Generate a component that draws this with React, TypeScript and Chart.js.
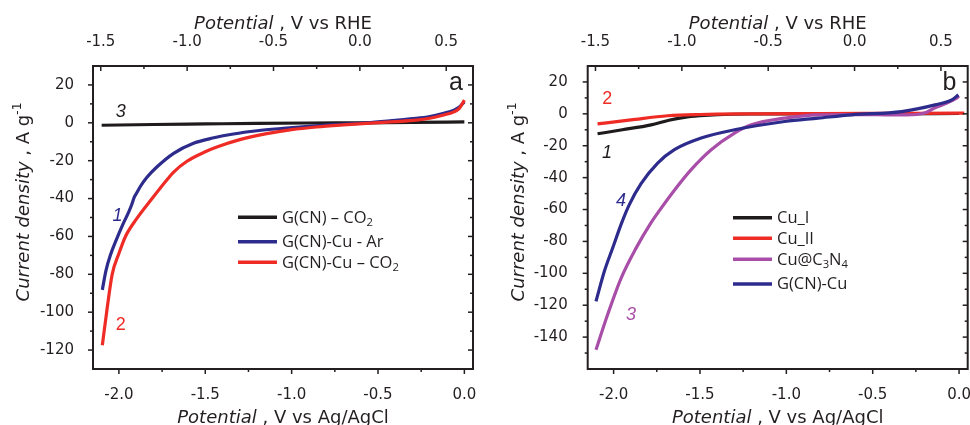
import React, { useEffect, useRef } from "react";
import { Chart, registerables } from "chart.js";

Chart.register(...registerables);

// ---------- axis ranges & ticks ----------
const xRangeAgCl = [-2.15, 0.05];
const xStep = 0.5;
const rheOffset = 0.605; // V vs RHE = V vs Ag/AgCl + offset
const xTicksAgCl = [-2.0, -1.5, -1.0, -0.5, 0.0];
const xTicksRHE = [-1.5, -1.0, -0.5, 0.0, 0.5];
const yRangeA = [-130, 30];
const yRangeB = [-160, 30];
const yStep = 20;
const yTicksA = [-120, -100, -80, -60, -40, -20, 0, 20];
const yTicksB = [-140, -120, -100, -80, -60, -40, -20, 0, 20];

// ---------- panel a data (Potential V vs Ag/AgCl, Current density A g-1) ----------
const potA_GCN_CO2 = [-2.1, -1.8, -1.5, -1.2, -0.9, -0.6, -0.3, 0.0];
const curA_GCN_CO2 = [-1.3, -0.9, -0.6, -0.3, -0.1, 0.0, 0.2, 0.5];

const potA_GCNCu_Ar = [-2.096, -2.075, -2.048, -2.014, -1.979, -1.943, -1.925, -1.912, -1.9, -1.875, -1.84, -1.779, -1.683, -1.568, -1.45, -1.337, -1.2, -1.048, -0.9, -0.76, -0.567, -0.4, -0.279, -0.2, -0.125, -0.06, -0.029, 0.0];
const curA_GCNCu_Ar = [-88.2, -78, -69.5, -61.5, -54, -47, -43, -39.5, -37.5, -33.5, -29, -23.2, -16.1, -10.8, -7.9, -5.9, -4.2, -2.9, -1.8, -0.9, 0, 1.3, 2.3, 3.3, 4.9, 6.7, 8.4, 11];

const potA_GCNCu_CO2 = [-2.096, -2.071, -2.039, -2.0, -1.962, -1.9, -1.808, -1.73, -1.683, -1.606, -1.5, -1.433, -1.3, -1.144, -1.0, -0.856, -0.7, -0.567, -0.4, -0.279, -0.2, -0.125, -0.06, -0.029, 0.0];
const curA_GCNCu_CO2 = [-117.5, -100, -80, -69, -60, -51, -40, -31, -26, -20.3, -15.3, -12.8, -8.9, -5.7, -3.6, -2.2, -1.1, -0.3, 0.6, 1.4, 2.4, 4, 5.8, 7.6, 12];

// ---------- panel b data ----------
const potB_CuI = [-2.093, -1.95, -1.783, -1.68, -1.59, -1.5, -1.397, -1.2, -0.8, -0.4, 0.0];
const curB_CuI = [-12.5, -10, -6.9, -4, -2.2, -1.2, -0.5, -0.1, 0, 0, 0.2];

const potB_CuII = [-2.093, -1.9, -1.687, -1.5, -1.2, -0.8, -0.4, 0.0, 0.03];
const curB_CuII = [-6.3, -3.8, -1.2, -0.4, 0, 0.2, 0.3, 0.4, 0.4];

const potB_CuC3N4 = [-2.102, -2.035, -1.957, -1.87, -1.783, -1.735, -1.648, -1.551, -1.435, -1.3, -1.203, -1.01, -0.816, -0.6, -0.43, -0.3, -0.2, -0.139, -0.07, -0.02, 0.0];
const curB_CuC3N4 = [-147.9, -126, -103.1, -84.2, -68.2, -60.7, -47.9, -35, -22.5, -12.1, -6.9, -2.7, -0.6, -0.5, -0.6, -0.7, 0.5, 3.8, 6.8, 9.5, 11.2];

const potB_GCNCu = [-2.102, -2.054, -2.006, -1.955, -1.909, -1.841, -1.745, -1.648, -1.493, -1.3, -1.01, -0.816, -0.623, -0.333, -0.139, -0.042, -0.004];
const curB_GCNCu = [-117.6, -98.9, -84.3, -68.8, -56.9, -43.8, -30.9, -22.5, -15.2, -10, -4.8, -2.7, -0.6, 1.4, 5.6, 8.8, 11.9];

// ---------- labels ----------
const legendLabelsA = ["G(CN) – CO{2}", "G(CN)-Cu - Ar", "G(CN)-Cu – CO{2}"];
const legendLabelsB = ["Cu_I", "Cu_II", "Cu@C{3}N{4}", "G(CN)-Cu"];
const curveTagsA = ["3", "1", "2"];
const curveTagsB = ["1", "2", "3", "4"];

const BLACK = "#1f1b1c";
const BLUE = "#2d2b8c";
const RED = "#ee2b24";
const PURPLE = "#a84ea8";
const TEXT = "#231f20";

type Series = { pot: number[]; cur: number[]; color: string; legend: string };
type Tag = { text: string; x: number; y: number; color: string; italic: boolean };
type Panel = {
  all: Series[];
  drawOrder: number[]; // first = on top
  yRange: number[];
  yTicks: number[];
  tags: Tag[];
  letter: { text: string; x: number; y: number };
  leftW: number;
  rightPad: number;
  yTickPad: number;
  yTitleX: number;
  legendLine: [number, number];
  legendTextX: number;
  legendRows: number[];
};

const sA: Series[] = [
  { pot: potA_GCN_CO2, cur: curA_GCN_CO2, color: BLACK, legend: legendLabelsA[0] },
  { pot: potA_GCNCu_Ar, cur: curA_GCNCu_Ar, color: BLUE, legend: legendLabelsA[1] },
  { pot: potA_GCNCu_CO2, cur: curA_GCNCu_CO2, color: RED, legend: legendLabelsA[2] },
];
const sB: Series[] = [
  { pot: potB_CuI, cur: curB_CuI, color: BLACK, legend: legendLabelsB[0] },
  { pot: potB_CuII, cur: curB_CuII, color: RED, legend: legendLabelsB[1] },
  { pot: potB_CuC3N4, cur: curB_CuC3N4, color: PURPLE, legend: legendLabelsB[2] },
  { pot: potB_GCNCu, cur: curB_GCNCu, color: BLUE, legend: legendLabelsB[3] },
];

const panelA: Panel = {
  all: sA,
  drawOrder: [2, 1, 0],
  yRange: yRangeA,
  yTicks: yTicksA,
  tags: [
    { text: curveTagsA[0], x: -1.99, y: 5.6, color: BLACK, italic: true },
    { text: curveTagsA[1], x: -2.008, y: -49, color: BLUE, italic: true },
    { text: curveTagsA[2], x: -1.99, y: -107, color: RED, italic: false },
  ],
  letter: { text: "a", x: -0.049, y: 21 },
  leftW: 93,
  rightPad: 12,
  yTickPad: 11,
  yTitleX: 29,
  legendLine: [238, 277],
  legendTextX: 282,
  legendRows: [217.3, 241.7, 262.3],
};
const panelB: Panel = {
  all: sB,
  drawOrder: [3, 2, 1, 0],
  yRange: yRangeB,
  yTicks: yTicksB,
  tags: [
    { text: curveTagsB[0], x: -2.038, y: -24.4, color: BLACK, italic: true },
    { text: curveTagsB[1], x: -2.037, y: 9.4, color: RED, italic: false },
    { text: curveTagsB[2], x: -1.899, y: -126, color: PURPLE, italic: true },
    { text: curveTagsB[3], x: -1.957, y: -54.9, color: BLUE, italic: true },
  ],
  letter: { text: "b", x: -0.055, y: 19 },
  leftW: 102.7,
  rightPad: 2.3,
  yTickPad: 12,
  yTitleX: 38.5,
  legendLine: [248, 287],
  legendTextX: 292,
  legendRows: [217.7, 238.3, 259.3, 284],
};

type Seg = { t: string; italic?: boolean; sup?: boolean; sub?: boolean };

function parseSub(s: string): Seg[] {
  const out: Seg[] = [];
  const re = /\{([^}]*)\}/g;
  let last = 0;
  let m: RegExpExecArray | null;
  while ((m = re.exec(s))) {
    if (m.index > last) out.push({ t: s.slice(last, m.index) });
    out.push({ t: m[1], sub: true });
    last = m.index + m[0].length;
  }
  if (last < s.length) out.push({ t: s.slice(last) });
  return out;
}

function drawRich(
  ctx: CanvasRenderingContext2D,
  segs: Seg[],
  x: number,
  y: number,
  size: number,
  family: string,
  align: "left" | "center"
) {
  const fontOf = (s: Seg) => {
    const sz = s.sup || s.sub ? size * 0.68 : size;
    return `${s.italic ? "italic " : ""}${sz}px ${family}`;
  };
  let total = 0;
  for (const s of segs) {
    ctx.font = fontOf(s);
    total += ctx.measureText(s.t).width;
  }
  let cx = align === "center" ? x - total / 2 : x;
  ctx.textAlign = "left";
  for (const s of segs) {
    ctx.font = fontOf(s);
    const dy = s.sup ? -size * 0.42 : s.sub ? size * 0.28 : 0;
    ctx.fillText(s.t, cx, y + dy);
    cx += ctx.measureText(s.t).width;
  }
}

function makePlugin(p: Panel) {
  return {
    id: "decor",
    afterDraw(chart: any) {
      const { ctx, chartArea: a, scales } = chart;
      const xs = scales.x;
      const xt = scales.x2;
      const ys = scales.y;
      ctx.save();
      ctx.strokeStyle = TEXT;
      ctx.lineWidth = 2;
      ctx.strokeRect(a.left, a.top, a.right - a.left, a.bottom - a.top);
      ctx.lineWidth = 1.5;
      const line = (x1: number, y1: number, x2: number, y2: number) => {
        ctx.beginPath();
        ctx.moveTo(x1, y1);
        ctx.lineTo(x2, y2);
        ctx.stroke();
      };
      const MAJ = 5;
      const MIN = 3;
      const half = yStep / 2;
      for (let i = Math.ceil(ys.min / half) + 1; i * half < ys.max; i++) {
        const L = i % 2 === 0 ? MAJ : MIN;
        const py = ys.getPixelForValue(i * half);
        line(a.left - L, py, a.left, py);
        line(a.right - L, py, a.right, py);
      }
      const qx = xStep / 2;
      for (let i = Math.ceil(xs.min / qx - 1e-9); i * qx <= xs.max + 1e-9; i++) {
        const L = i % 2 === 0 ? MAJ : MIN;
        const px = xs.getPixelForValue(i * qx);
        line(px, a.bottom, px, a.bottom + L);
      }
      for (let i = Math.ceil(xt.min / qx - 1e-9); i * qx <= xt.max + 1e-9; i++) {
        const L = i % 2 === 0 ? MAJ : MIN;
        const px = xt.getPixelForValue(i * qx);
        line(px, a.top, px, a.top + L);
      }
      // axis titles
      ctx.fillStyle = TEXT;
      ctx.textBaseline = "alphabetic";
      const fam = '"DejaVu Sans"';
      const cxA = (a.left + a.right) / 2;
      drawRich(ctx, [{ t: "Potential", italic: true }, { t: " , V vs RHE" }], cxA, 29, 18, fam, "center");
      drawRich(ctx, [{ t: "Potential", italic: true }, { t: " , V vs Ag/AgCl" }], cxA, 423, 18, fam, "center");
      ctx.save();
      ctx.translate(p.yTitleX, 202);
      ctx.rotate(-Math.PI / 2);
      drawRich(
        ctx,
        [{ t: "Current density", italic: true }, { t: " , A g" }, { t: "-1", sup: true }],
        0,
        0,
        18,
        fam,
        "center"
      );
      ctx.restore();
      // legend
      p.all.forEach((s, r) => {
        const yy = p.legendRows[r];
        ctx.strokeStyle = s.color;
        ctx.lineWidth = 3.6;
        line(p.legendLine[0], yy, p.legendLine[1], yy);
        ctx.fillStyle = TEXT;
        ctx.textBaseline = "middle";
        drawRich(ctx, parseSub(s.legend), p.legendTextX, yy + 0.5, 16.5, '"Open Sans"', "left");
      });
      // curve tags
      ctx.textBaseline = "middle";
      ctx.textAlign = "center";
      for (const t of p.tags) {
        ctx.fillStyle = t.color;
        ctx.font = `${t.italic ? "italic " : ""}18px "Liberation Sans"`;
        ctx.fillText(t.text, xs.getPixelForValue(t.x), ys.getPixelForValue(t.y));
      }
      ctx.fillStyle = TEXT;
      ctx.font = '25px "Liberation Sans"';
      ctx.fillText(p.letter.text, xs.getPixelForValue(p.letter.x), ys.getPixelForValue(p.letter.y));
      ctx.restore();
    },
  };
}

function buildConfig(p: Panel): any {
  const tickFont = { family: '"DejaVu Sans"', size: 15 };
  const zeroPad = (s: any) => {
    s.paddingLeft = 0;
    s.paddingRight = 0;
    s.paddingTop = 0;
    s.paddingBottom = 0;
  };
  const fmt1 = (v: any) => {
    const n = Math.round(Number(v) * 10) / 10;
    return (Math.abs(n) < 1e-9 ? 0 : n).toFixed(1);
  };
  const setTicks = (arr: number[]) => (s: any) => {
    s.ticks = arr.map((v) => ({ value: v }));
  };
  return {
    type: "line",
    data: {
      datasets: p.drawOrder.map((k) => {
        const s = p.all[k];
        return {
          data: s.pot.map((x, i) => ({ x, y: s.cur[i] })),
          borderColor: s.color,
          borderWidth: 3.2,
          pointRadius: 0,
          fill: false,
          tension: 0.4,
          cubicInterpolationMode: "monotone",
          xAxisID: "x",
          yAxisID: "y",
        };
      }),
    },
    options: {
      animation: false,
      responsive: false,
      devicePixelRatio: 1,
      events: [],
      layout: { padding: { left: 0, right: p.rightPad, top: 0, bottom: 0 } },
      plugins: { legend: { display: false }, tooltip: { enabled: false } },
      scales: {
        x: {
          type: "linear",
          position: "bottom",
          min: xRangeAgCl[0],
          max: xRangeAgCl[1],
          grid: { display: false },
          border: { display: false },
          afterBuildTicks: setTicks(xTicksAgCl),
          ticks: { font: tickFont, color: TEXT, padding: 9, callback: fmt1, maxRotation: 0, autoSkip: false },
          afterFit: (s: any) => {
            s.height = 56;
            zeroPad(s);
          },
        },
        x2: {
          type: "linear",
          position: "top",
          min: xRangeAgCl[0] + rheOffset,
          max: xRangeAgCl[1] + rheOffset,
          grid: { display: false },
          border: { display: false },
          afterBuildTicks: setTicks(xTicksRHE),
          ticks: { font: tickFont, color: TEXT, padding: 7, callback: fmt1, maxRotation: 0, autoSkip: false },
          afterFit: (s: any) => {
            s.height = 66;
            zeroPad(s);
          },
        },
        y: {
          type: "linear",
          position: "left",
          min: p.yRange[0],
          max: p.yRange[1],
          grid: { display: false },
          border: { display: false },
          afterBuildTicks: setTicks(p.yTicks),
          ticks: { font: tickFont, color: TEXT, padding: p.yTickPad, autoSkip: false },
          afterFit: (s: any) => {
            s.width = p.leftW;
            zeroPad(s);
          },
        },
      },
    },
    plugins: [makePlugin(p)],
  };
}

function PanelChart({ panel, left }: { panel: Panel; left: number }) {
  const ref = useRef<HTMLCanvasElement>(null);
  useEffect(() => {
    const chart = new Chart(ref.current as HTMLCanvasElement, buildConfig(panel));
    return () => chart.destroy();
  }, [panel]);
  return (
    <canvas
      ref={ref}
      width={485}
      height={425}
      style={{ position: "absolute", left, top: 0, width: 485, height: 425, display: "block" }}
    />
  );
}

export default function App() {
  return (
    <div style={{ position: "absolute", left: 0, top: 0, width: 970, height: 425, background: "#fff", overflow: "hidden" }}>
      <PanelChart panel={panelA} left={0} />
      <PanelChart panel={panelB} left={485} />
    </div>
  );
}
